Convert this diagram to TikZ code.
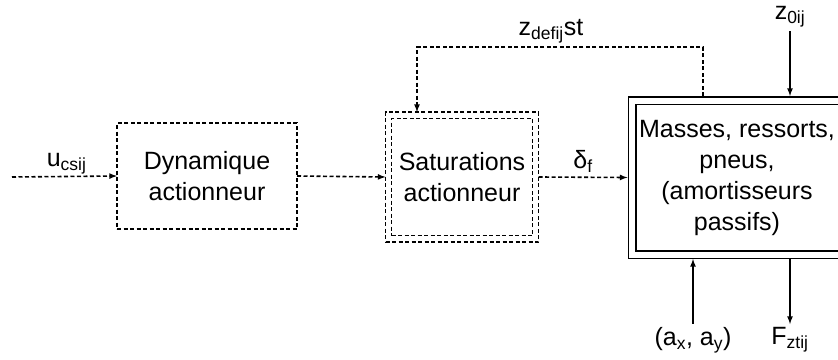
\documentclass[tikz,border=0pt]{standalone}
\usepackage{fontspec}
\setmainfont{Liberation Sans}
\usetikzlibrary{arrows}

\tikzset{
  block/.style={draw, line width=1.6pt, dash pattern=on 4pt off 2.5pt,
    align=center, outer sep=0pt},
  plant/.style={draw, line width=1.5pt, double, double distance=6pt,
    align=center, outer sep=4.5pt},
  flow/.style={-latex, line width=1.6pt, dash pattern=on 4pt off 2.5pt},
  sig/.style={-latex, line width=1.6pt},
}

\begin{document}
\begin{tikzpicture}[x=1pt,y=-1pt,font=\fontsize{25}{31}\selectfont]
    \useasboundingbox (0,0) rectangle (838,359);
    \clip (0,0) rectangle (838,359);
    \coordinate (in) at (12,177);
    \node[block, minimum width=180pt, minimum height=106pt] (dyn) at (207,176) {Dynamique\\actionneur};
    \node[block, minimum width=153pt, minimum height=130pt] (satout) at (462,177) {};
    \node[block, minimum width=141pt, minimum height=117pt] (sat) at (462,177) {Saturations\\actionneur};
    \node[plant, minimum width=210pt, minimum height=154pt] (mass) at (737,177.5)
      {Masses, ressorts,\\pneus,\\(amortisseurs\\passifs)};
    \draw[flow] (in) -- (dyn.west) node[pos=0.52, above=-2pt] {u\textsubscript{csij}};
    \draw[flow] (dyn.east) -- (satout.west);
    \draw[flow] (satout.east) -- (mass.west) node[midway, above=1pt] {δ\textsubscript{f}};
    % retour
    \coordinate (fb) at (703,47);
    \draw[flow] (fb |- mass.north) -- (fb) -| ([xshift=-45pt]satout.north);
    \node (zdef) at (551,31) {z\textsubscript{defij}st};
    \node (z0) at (790,17) {z\textsubscript{0ij}};
    \draw[sig] (z0) -- (z0 |- mass.north);
    \node (acc) at (693,340) {(a\textsubscript{x}, a\textsubscript{y})};
    \draw[sig] (acc) -- (acc |- mass.south);
    \node (fz) at (790,340) {F\textsubscript{ztij}};
    \draw[sig] (fz |- mass.south) -- (fz);
\end{tikzpicture}
\end{document}
